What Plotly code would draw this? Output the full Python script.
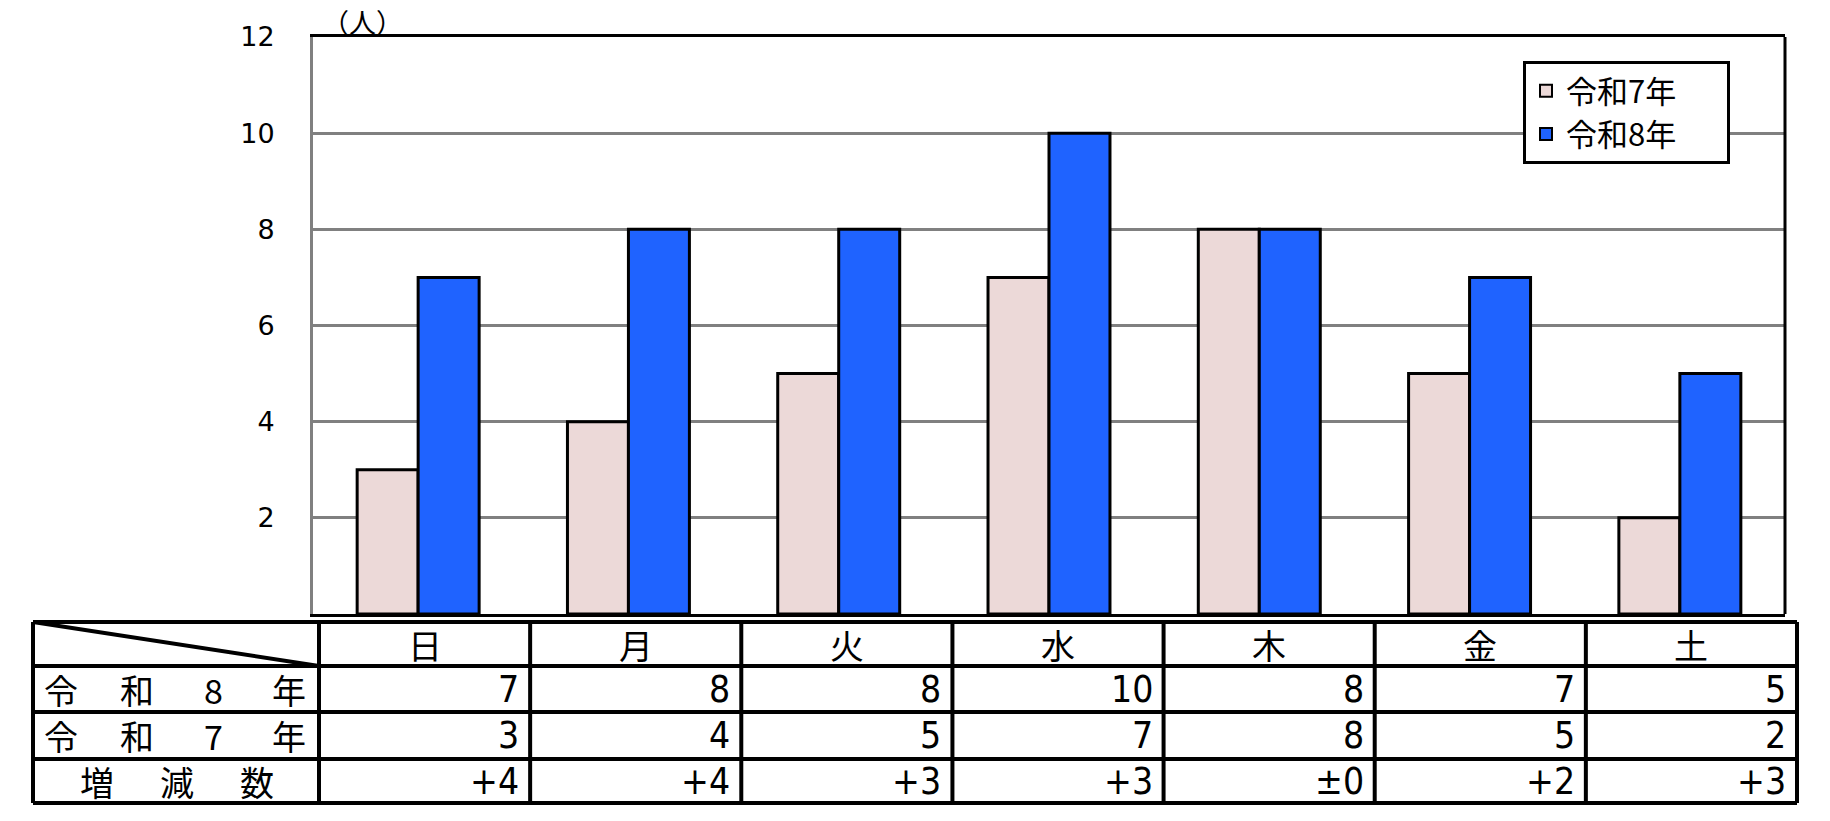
import plotly.graph_objects as go

# ---------------- data ----------------
days = ["日", "月", "火", "水", "木", "金", "土"]
r7 = [3, 4, 5, 7, 8, 5, 2]
r8 = [7, 8, 8, 10, 8, 7, 5]
diff_labels = ["+4", "+4", "+3", "+3", "±0", "+2", "+3"]
series_names = ["令和7年", "令和8年"]
row_labels = ["令和8年", "令和7年", "増減数"]
y_ticks = [2, 4, 6, 8, 10, 12]
unit_label = "（人）"

# ---------------- styling / geometry ----------------
W_PX, H_PX = 1830, 821
L, R, T, B = 313, 1785, 37, 614
PW, PH = R - L, B - T
PINK = "#ECD9D8"
BLUE = "#1F63FF"
JP = "Noto Sans CJK JP, Noto Sans, sans-serif"
NARROW = "Liberation Sans Narrow, DejaVu Sans Condensed, Liberation Sans, sans-serif"
DIG = "DejaVu Sans, Liberation Sans, sans-serif"
LEGEND_PAD = "\u3000\u00a0\u00a0"  # right padding inside the legend box


def fx(px):
    return (px - L) / PW


def fy(py):
    return (B - py) / PH


fig = go.Figure()
fig.add_trace(go.Bar(x=days, y=r7, name=series_names[0] + LEGEND_PAD,
                     marker=dict(color=PINK, line=dict(color="black", width=3))))
fig.add_trace(go.Bar(x=days, y=r8, name=series_names[1] + LEGEND_PAD,
                     marker=dict(color=BLUE, line=dict(color="black", width=3))))

shapes = []
annotations = []

# right border of plot area
shapes.append(dict(type="line", xref="paper", yref="paper", x0=1, x1=1, y0=0, y1=1,
                   line=dict(color="black", width=3), layer="above"))

# ---------------- table ----------------
tab_left, tab_label_right, tab_right = 33, 319, 1797
row_edges = [622, 666, 712, 759, 803]
ncol = len(days)
col_w = (tab_right - tab_label_right) / ncol
col_edges = [tab_label_right + i * col_w for i in range(ncol + 1)]
lw = 4
for ry in row_edges:
    shapes.append(dict(type="line", xref="paper", yref="paper", x0=fx(tab_left), x1=fx(tab_right),
                       y0=fy(ry), y1=fy(ry), line=dict(color="black", width=lw)))
for cx in [tab_left] + col_edges:
    shapes.append(dict(type="line", xref="paper", yref="paper", x0=fx(cx), x1=fx(cx),
                       y0=fy(row_edges[0]), y1=fy(row_edges[-1]), line=dict(color="black", width=lw)))
# diagonal in header corner cell
shapes.append(dict(type="line", xref="paper", yref="paper", x0=fx(tab_left), y0=fy(row_edges[0]),
                   x1=fx(tab_label_right), y1=fy(row_edges[1]), line=dict(color="black", width=lw)))

def rc(i):
    return (row_edges[i] + row_edges[i + 1]) / 2

# header
for j, d in enumerate(days):
    annotations.append(dict(xref="paper", yref="paper", x=fx((col_edges[j] + col_edges[j + 1]) / 2), y=fy(rc(0)),
                            text=d, showarrow=False, xanchor="center", yanchor="middle",
                            font=dict(family=JP, size=34, color="black")))
# row labels (distributed)
for i, lab in enumerate(row_labels):
    chars = list(lab)
    if len(chars) == 4:
        start, step = 61, 76
    else:
        start, step = 97, 80
    for k, ch in enumerate(chars):
        annotations.append(dict(xref="paper", yref="paper", x=fx(start + k * step), y=fy(rc(i + 1)),
                                text=ch, showarrow=False, xanchor="center", yanchor="middle",
                                font=dict(family=JP, size=34, color="black")))
# values
table_rows = [[str(v) for v in r8], [str(v) for v in r7], diff_labels]
for i, row in enumerate(table_rows):
    for j, v in enumerate(row):
        annotations.append(dict(xref="paper", yref="paper", x=fx(col_edges[j + 1] - 9), y=fy(rc(i + 1)),
                                text=v, showarrow=False, xanchor="right", yanchor="middle",
                                font=dict(family=NARROW, size=37, color="black")))

# unit label
annotations.append(dict(xref="paper", yref="paper", x=fx(362), y=fy(1), text=unit_label, showarrow=False,
                        xanchor="center", yanchor="top", borderpad=0,
                        font=dict(family=JP, size=27, color="black")))

fig.update_layout(
    width=W_PX, height=H_PX, autosize=False,
    margin=dict(l=L, r=W_PX - R, t=T, b=H_PX - B, pad=0),
    paper_bgcolor="white", plot_bgcolor="white",
    barmode="group", bargap=0.42, bargroupgap=0,
    showlegend=True,
    legend=dict(x=fx(1523), y=fy(61), xanchor="left", yanchor="top",
                bgcolor="white", bordercolor="black", borderwidth=3,
                font=dict(family=JP, size=31, color="black"), traceorder="normal",
                itemsizing="constant", itemwidth=30, tracegroupgap=0),
    xaxis=dict(showticklabels=False, showgrid=False, ticks="", showline=True, linecolor="black",
               linewidth=3, mirror=True, zeroline=False),
    yaxis=dict(range=[0, 12], tickvals=y_ticks, ticktext=[str(v) for v in y_ticks],
               showgrid=True, gridcolor="#808080", gridwidth=3, showline=True, linecolor="#808080",
               linewidth=3, zeroline=False, ticks="", ticklabelstandoff=30,
               tickfont=dict(family=DIG, size=27, color="black")),
    shapes=shapes, annotations=annotations,
)

fig.write_html("out.html")
